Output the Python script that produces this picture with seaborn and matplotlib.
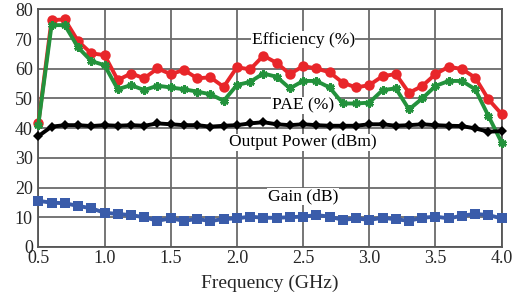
import matplotlib
matplotlib.use("Agg")
import matplotlib.pyplot as plt
import seaborn as sns
import numpy as np
import pandas as pd

freq = [0.5, 0.6, 0.7, 0.8, 0.9, 1.0, 1.1, 1.2, 1.3, 1.4, 1.5, 1.6, 1.7, 1.8, 1.9,
        2.0, 2.1, 2.2, 2.3, 2.4, 2.5, 2.6, 2.7, 2.8, 2.9, 3.0, 3.1, 3.2, 3.3, 3.4,
        3.5, 3.6, 3.7, 3.8, 3.9, 4.0]
efficiency = [41.6, 76.4, 76.6, 69.3, 65.2, 64.6, 56.2, 58.4, 56.8, 60.1, 58.2, 59.6,
              56.8, 57.1, 53.9, 60.5, 59.8, 64.4, 62.0, 58.2, 60.9, 60.1, 58.8, 55.3,
              53.7, 54.5, 57.5, 58.2, 51.9, 54.2, 58.2, 60.7, 59.9, 57.0, 49.7, 44.7]
pae = [41.2, 74.7, 74.7, 67.2, 62.6, 61.2, 53.1, 54.5, 52.8, 54.3, 53.7, 53.1,
       52.3, 51.4, 49.2, 54.5, 55.6, 58.4, 57.3, 53.4, 55.9, 55.9, 53.7, 48.3,
       48.3, 48.6, 52.8, 53.4, 46.3, 50.0, 54.2, 55.9, 55.9, 53.1, 44.1, 35.1]
output_power = [37.3, 40.5, 41.0, 41.0, 40.7, 41.0, 40.8, 41.0, 40.8, 41.6, 41.3, 41.0,
                41.0, 40.5, 40.8, 41.0, 41.6, 42.0, 41.3, 41.0, 41.3, 41.0, 40.8, 40.8,
                40.8, 41.3, 41.3, 40.8, 41.0, 41.3, 41.0, 40.8, 40.7, 39.9, 38.8, 39.0]
gain = [15.5, 14.9, 14.7, 13.8, 13.0, 11.5, 11.1, 10.7, 10.0, 8.8, 9.6, 8.8,
        9.4, 8.7, 9.4, 9.6, 10.2, 9.8, 9.8, 10.0, 10.2, 10.7, 10.2, 9.1,
        9.6, 9.1, 9.8, 9.3, 8.8, 9.8, 10.2, 9.6, 10.5, 11.1, 10.7, 9.6]

labels = ["Efficiency (%)", "PAE (%)", "Output Power (dBm)", "Gain (dB)"]
label_pos = [(2.5, 69.8), (2.5, 47.6), (2.5, 35.2), (2.5, 16.9)]
xticks = [0.5, 1.0, 1.5, 2.0, 2.5, 3.0, 3.5, 4.0]
yticks = [0, 10, 20, 30, 40, 50, 60, 70, 80]

sns.set_style("white")
plt.rcParams['font.family'] = ['Liberation Serif', 'DejaVu Serif']

fig = plt.figure(figsize=(5.25, 2.98), dpi=100)
ax = fig.add_axes([0.073, 0.1715, 0.8826, 0.797])

df = pd.DataFrame({"freq": freq, "eff": efficiency, "pae": pae,
                   "pout": output_power, "gain": gain})

ax.grid(True, color="#6a6a6a", linewidth=1.3, zorder=0)
ax.set_axisbelow(True)

sns.lineplot(data=df, x="freq", y="eff", ax=ax, color="#e8262a", linewidth=2.8,
             marker="o", markersize=7.5, markeredgewidth=0, zorder=3, clip_on=False)
sns.lineplot(data=df, x="freq", y="pae", ax=ax, color="#23923c", linewidth=2.8,
             marker=(6, 2, 0), markersize=6, markeredgewidth=2, markeredgecolor="#23923c",
             zorder=4, clip_on=False)
sns.lineplot(data=df, x="freq", y="pout", ax=ax, color="#000000", linewidth=2.8,
             marker="D", markersize=5.5, markeredgewidth=0, zorder=5, clip_on=False)
sns.lineplot(data=df, x="freq", y="gain", ax=ax, color="#3a5caa", linewidth=2.8,
             marker="s", markersize=6.5, markeredgewidth=0, zorder=3, clip_on=False)

for lab, (lx, ly) in zip(labels, label_pos):
    ax.text(lx, ly, lab, ha="center", va="center", fontsize=12.6, color="black",
            bbox=dict(facecolor="white", edgecolor="none", pad=0.5), zorder=2)

ax.set_xlim(0.5, 4.0)
ax.set_ylim(0, 80)
ax.set_xticks(xticks)
ax.set_xticklabels([f"{v:.1f}" for v in xticks])
ax.set_yticks(yticks)
ax.tick_params(axis="x", length=0, labelsize=13, pad=2)
ax.tick_params(axis="y", length=0, labelsize=13, pad=4)
ax.set_xlabel("Frequency (GHz)", fontsize=14, labelpad=6)
ax.set_ylabel("")
for s in ax.spines.values():
    s.set_color("#555555")
    s.set_linewidth(1.3)

fig.savefig("out.png", dpi=100)
